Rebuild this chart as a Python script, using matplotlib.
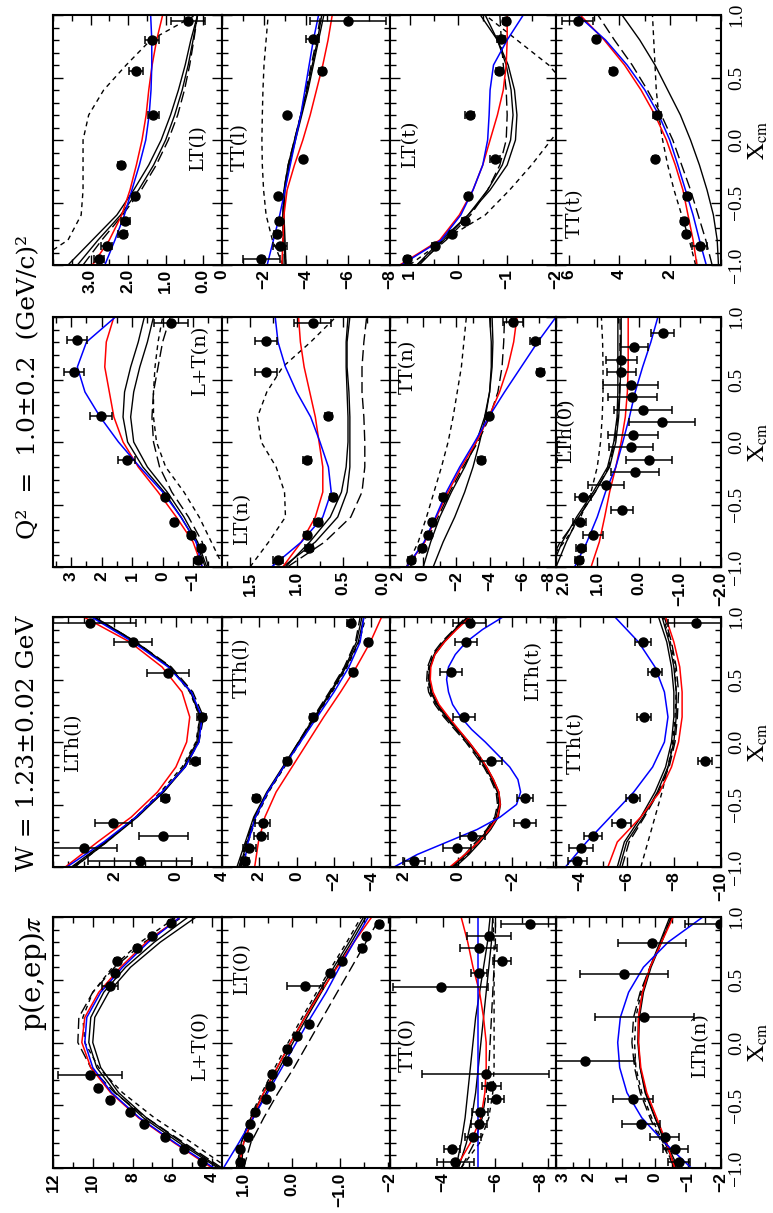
import numpy as np
import matplotlib
matplotlib.use("Agg")
import matplotlib.pyplot as plt
from matplotlib.ticker import FixedLocator, MultipleLocator, FuncFormatter

plt.rcParams['mathtext.fontset'] = 'stix'

xg = [-1.0, -0.8, -0.6, -0.4, -0.2, 0.0, 0.2, 0.4, 0.6, 0.8, 1.0]
xg_fine = [-1.0, -0.9, -0.8, -0.7, -0.6, -0.5, -0.4, -0.3, -0.2, -0.1, 0.0,
           0.1, 0.2, 0.3, 0.4, 0.5, 0.6, 0.7, 0.8, 0.9, 1.0]

# ---------------- LT(l)
ltl_x = [-0.955, -0.85, -0.75, -0.65, -0.45, -0.2, 0.2, 0.55, 0.8, 0.955]
ltl_v = [2.78, 2.57, 2.14, 2.08, 1.82, 2.19, 1.33, 1.79, 1.37, 0.41]
ltl_e = [0.14, 0.15, 0.12, 0.12, 0.05, 0.08, 0.15, 0.18, 0.19, 0.45]
ltl_red = [2.95, 2.5, 2.17, 1.95, 1.78, 1.63, 1.52, 1.45, 1.36, 1.24, 1.08]
ltl_blue = [2.62, 2.35, 2.1, 1.9, 1.7, 1.53, 1.44, 1.39, 1.37, 1.37, 1.40]
ltl_s1 = [3.6, 2.95, 2.3, 1.85, 1.45, 1.12, 0.87, 0.66, 0.48, 0.33, 0.15]
ltl_s2 = [3.35, 2.8, 2.2, 1.72, 1.32, 1.0, 0.76, 0.56, 0.4, 0.27, 0.15]
ltl_ld = [3.2, 2.7, 2.15, 1.65, 1.25, 0.93, 0.68, 0.5, 0.36, 0.25, 0.15]
ltl_sd = [4.6, 3.6, 3.25, 3.2, 3.2, 3.2, 3.05, 2.65, 2.05, 1.4, 0.2]

# ---------------- TT(l)
ttl_x = [-0.955, -0.85, -0.75, -0.65, -0.45, -0.15, 0.2, 0.555, 0.805, 0.955]
ttl_v = [-1.88, -2.76, -2.63, -2.71, -2.68, -3.87, -3.08, -4.75, -4.32, -6.0]
ttl_e = [0.9, 0.35, 0.15, 0.1, 0.05, 0.05, 0.05, 0.15, 0.3, 1.8]
ttl_red = [-2.85, -2.9, -2.95, -3.1, -3.45, -3.85, -4.2, -4.5, -4.8, -5.05, -5.25]
ttl_blue = [-2.15, -2.45, -2.75, -3.0, -3.25, -3.5, -3.75, -3.95, -4.15, -4.35, -4.6]
ttl_s1 = [-3.05, -3.0, -2.95, -3.0, -3.2, -3.5, -3.8, -4.1, -4.35, -4.6, -4.85]
ttl_s2 = [-3.0, -2.95, -2.9, -2.95, -3.15, -3.45, -3.75, -4.05, -4.3, -4.55, -4.75]
ttl_ld = [-2.9, -2.9, -2.9, -2.95, -3.15, -3.45, -3.75, -4.0, -4.25, -4.5, -4.7]
ttl_sd = [-2.9, -2.4, -2.1, -1.98, -1.92, -1.9, -1.92, -1.95, -2.0, -2.1, -2.2]

# ---------------- LT(t)
ltt_x = [-0.955, -0.85, -0.75, -0.65, -0.45, -0.15, 0.2, 0.555, 0.805, 0.955]
ltt_v = [1.05, 0.48, 0.12, -0.13, -0.2, -0.75, -0.23, -0.83, -0.88, -0.98]
ltt_e = [0.05, 0.05, 0.05, 0.06, 0.05, 0.1, 0.1, 0.06, 0.08, 0.06]
ltt_red = [1.2, 0.38, -0.02, -0.3, -0.5, -0.65, -0.8, -0.92, -0.98, -1.0, -1.0]
ltt_blue = [1.17, 0.35, -0.05, -0.3, -0.5, -0.6, -0.63, -0.65, -0.72, -1.0, -1.33]
ltt_s1 = [0.85, 0.35, -0.2, -0.65, -1.0, -1.17, -1.2, -1.15, -1.02, -0.8, -0.45]
ltt_s2 = [0.8, 0.3, -0.2, -0.6, -0.9, -1.07, -1.12, -1.08, -0.98, -0.8, -0.55]
ltt_ld = [0.85, 0.25, -0.25, -0.6, -0.85, -0.98, -1.0, -0.98, -0.92, -0.88, -0.85]
ltt_sd = [1.0, 0.3, -0.55, -1.05, -1.5, -1.9, -2.3, -2.3, -1.85, -1.2, -0.55]

# ---------------- TT(t)
ttt_x = [-0.85, -0.75, -0.65, -0.45, -0.15, 0.2, 0.555, 0.805, 0.955]
ttt_v = [0.84, 1.37, 1.46, 1.34, 2.59, 2.51, 4.26, 4.91, 5.65]
ttt_e = [0.3, 0.1, 0.1, 0.1, 0.1, 0.15, 0.1, 0.1, 0.6]
ttt_red = [0.95, 1.1, 1.3, 1.5, 1.8, 2.15, 2.6, 3.15, 3.8, 4.6, 5.55]
ttt_blue = [0.58, 0.85, 1.1, 1.4, 1.7, 2.02, 2.45, 3.0, 3.7, 4.55, 5.65]
ttt_s1 = [0.1, 0.15, 0.3, 0.55, 0.85, 1.2, 1.6, 2.1, 2.6, 3.2, 3.9]
ttt_s2 = None
ttt_ld = [0.35, 0.6, 0.9, 1.2, 1.55, 1.9, 2.35, 2.9, 3.5, 4.2, 4.85]
ttt_sd = [1.0, 1.25, 1.55, 1.85, 2.1, 2.3, 2.45, 2.55, 2.6, 2.65, 2.7]

# ---------------- L+T(n)
lptn_x = [-0.94, -0.85, -0.74, -0.64, -0.44, -0.14, 0.21, 0.56, 0.816, 0.955]
lptn_v = [-1.16, -1.27, -0.92, -0.39, -0.09, 1.18, 2.02, 2.9, 2.81, -0.28]
lptn_e = [0.1, 0.1, 0.1, 0.08, 0.08, 0.28, 0.37, 0.33, 0.33, 0.55]
lptn_red = [-1.3, -1.0, -0.45, 0.15, 0.8, 1.3, 1.6, 1.75, 1.9, 1.85, 1.6]
lptn_blue = [-1.3, -1.1, -0.6, 0.0, 0.75, 1.45, 2.05, 2.55, 2.8, 2.5, 1.55]
lptn_s1 = [-1.4, -1.1, -0.6, -0.05, 0.65, 1.15, 1.3, 1.25, 1.05, 0.8, 0.6]
lptn_s2 = [-1.45, -1.15, -0.7, -0.15, 0.5, 0.95, 1.05, 0.95, 0.75, 0.5, 0.3]
lptn_ld = [-1.5, -1.3, -0.85, -0.3, 0.1, 0.3, 0.35, 0.3, 0.15, 0.0, -0.25]
lptn_sd = [-2.0, -1.6, -1.2, -0.7, -0.1, 0.2, 0.3, 0.3, 0.25, 0.15, 0.0]

# ---------------- LT(n)
ltn_x = [-0.94, -0.85, -0.74, -0.64, -0.44, -0.14, 0.21, 0.56, 0.81, 0.955]
ltn_v = [1.2, 0.87, 0.89, 0.77, 0.61, 0.89, 0.66, 1.33, 1.33, 0.83]
ltn_e = [0.05, 0.04, 0.03, 0.04, 0.03, 0.04, 0.04, 0.12, 0.12, 0.2]
ltn_red = [1.15, 0.95, 0.8, 0.72, 0.72, 0.76, 0.8, 0.86, 0.92, 0.96, 0.98]
ltn_blue = [1.27, 0.95, 0.72, 0.63, 0.66, 0.75, 0.85, 1.0, 1.12, 1.2, 1.23]
ltn_s1 = [1.15, 0.8, 0.56, 0.46, 0.43, 0.43, 0.43, 0.44, 0.46, 0.46, 0.43]
ltn_s2 = [1.12, 0.86, 0.64, 0.52, 0.47, 0.45, 0.45, 0.46, 0.47, 0.47, 0.45]
ltn_ld = [1.1, 0.7, 0.42, 0.3, 0.27, 0.27, 0.28, 0.3, 0.3, 0.28, 0.25]
ltn_sd = [1.5, 1.3, 1.12, 1.13, 1.22, 1.38, 1.42, 1.32, 1.15, 0.85, 0.58]

# ---------------- TT(n)
ttn_x = [-0.94, -0.85, -0.74, -0.64, -0.44, -0.14, 0.21, 0.56, 0.81, 0.96]
ttn_v = [0.72, 0.05, -0.29, -0.55, -1.19, -3.5, -3.96, -7.06, -6.72, -5.41]
ttn_e = [0.2, 0.15, 0.15, 0.15, 0.15, 0.2, 0.2, 0.2, 0.3, 0.6]
ttn_red = [1.0, -0.1, -0.8, -1.5, -2.3, -3.2, -3.95, -4.6, -5.1, -5.45, -5.65]
ttn_blue = [1.0, -0.05, -0.75, -1.4, -2.2, -3.1, -3.95, -4.9, -5.9, -6.9, -8.0]
ttn_s1 = [0.0, -0.45, -1.0, -1.7, -2.5, -3.2, -3.7, -4.0, -4.1, -4.1, -4.0]
ttn_s2 = [-0.6, -1.2, -1.9, -2.5, -3.0, -3.4, -3.75, -4.0, -4.15, -4.2, -4.15]
ttn_ld = [0.8, -0.2, -0.9, -1.6, -2.4, -3.3, -4.0, -4.5, -4.75, -4.85, -4.9]
ttn_sd = [1.0, 0.3, -0.2, -0.65, -1.1, -1.5, -1.8, -2.05, -2.3, -2.45, -2.6]

# ---------------- LTh(0)
lth0_x = [-0.94, -0.85, -0.74, -0.64, -0.54, -0.44, -0.34, -0.24, -0.14, -0.04,
          0.06, 0.16, 0.26, 0.36, 0.46, 0.56, 0.66, 0.76, 0.87]
lth0_v = [1.45, 1.39, 1.1, 1.43, 0.4, 1.35, 0.78, 0.08, -0.25, 0.19,
          0.13, -0.57, -0.1, 0.15, 0.19, 0.42, 0.42, 0.11, -0.59]
lth0_e = [0.1, 0.12, 0.24, 0.15, 0.26, 0.2, 0.44, 0.58, 0.55, 0.53,
          0.6, 0.8, 0.7, 0.6, 0.67, 0.35, 0.38, 0.34, 0.28]
lth0_red = [1.15, 0.95, 0.82, 0.7, 0.55, 0.42, 0.32, 0.27, 0.25, 0.25, 0.25]
lth0_blue = [1.55, 1.25, 1.0, 0.8, 0.55, 0.38, 0.22, 0.08, -0.1, -0.3, -0.47]
lth0_s1 = [2.0, 1.75, 1.45, 1.05, 0.7, 0.55, 0.48, 0.45, 0.43, 0.42, 0.42]
lth0_s2 = [2.1, 1.85, 1.5, 1.1, 0.75, 0.6, 0.52, 0.5, 0.5, 0.5, 0.5]
lth0_ld = [2.2, 1.9, 1.45, 1.05, 0.72, 0.58, 0.5, 0.46, 0.44, 0.44, 0.45]
lth0_sd = [2.3, 1.8, 1.4, 1.15, 1.0, 0.92, 0.88, 0.86, 0.86, 0.87, 0.9]

# ---------------- LTh(l)
lthl_x = [-0.955, -0.85, -0.75, -0.65, -0.45, -0.15, 0.2, 0.55, 0.8, 0.955]
lthl_v = [1.17, 2.98, 0.41, 2.04, 0.36, -0.62, -0.84, 0.25, 1.39, 2.8]
lthl_e = [1.7, 1.05, 0.8, 0.6, 0.12, 0.15, 0.15, 0.68, 0.62, 1.5]
lthl_red = [3.6, 2.55, 1.45, 0.6, 0.0, -0.35, -0.45, -0.2, 0.45, 1.5, 3.0]
lthl_blue = [3.55, 2.35, 1.3, 0.45, -0.3, -0.75, -0.85, -0.5, 0.25, 1.4, 2.75]
lthl_s1 = [3.4, 2.3, 1.3, 0.4, -0.3, -0.72, -0.82, -0.5, 0.2, 1.35, 2.7]
lthl_s2 = [3.3, 2.25, 1.25, 0.4, -0.25, -0.68, -0.78, -0.48, 0.2, 1.3, 2.65]
lthl_ld = [3.35, 2.3, 1.3, 0.45, -0.3, -0.75, -0.9, -0.55, 0.15, 1.3, 2.65]
lthl_sd = [3.3, 2.25, 1.3, 0.5, -0.2, -0.65, -0.78, -0.45, 0.2, 1.3, 2.7]

# ---------------- TTh(l)
tthl_x = [-0.95, -0.85, -0.75, -0.65, -0.45, -0.15, 0.2, 0.56, 0.8, 0.95]
tthl_v = [2.77, 2.54, 1.91, 1.82, 2.18, 0.53, -0.86, -3.0, -3.84, -2.89]
tthl_e = [0.2, 0.35, 0.4, 0.4, 0.15, 0.15, 0.15, 0.15, 0.15, 0.2]
tthl_red = [2.25, 2.05, 1.7, 1.1, 0.25, -0.6, -1.45, -2.35, -3.2, -3.95, -4.55]
tthl_blue = [2.85, 2.6, 2.2, 1.55, 0.7, -0.2, -1.1, -2.0, -2.8, -3.4, -3.6]
tthl_s1 = [3.2, 2.75, 2.3, 1.6, 0.75, -0.1, -0.95, -1.8, -2.6, -3.2, -3.5]
tthl_s2 = [3.05, 2.65, 2.2, 1.55, 0.7, -0.15, -1.0, -1.85, -2.65, -3.3, -3.6]
tthl_ld = [3.1, 2.7, 2.25, 1.55, 0.7, -0.1, -0.9, -1.75, -2.55, -3.15, -3.4]
tthl_sd = [3.0, 2.6, 2.15, 1.5, 0.65, -0.2, -1.05, -1.9, -2.7, -3.35, -3.7]

# ---------------- LTh(t)  (curves read on the fine grid)
ltht_x = [-0.95, -0.85, -0.75, -0.65, -0.45, -0.15, 0.2, 0.56, 0.8, 0.95]
ltht_v = [1.63, 0.04, -0.53, -2.45, -2.45, -1.22, -0.22, 0.25, -0.28, -0.43]
ltht_e = [0.4, 0.5, 0.45, 0.4, 0.3, 0.4, 0.4, 0.4, 0.4, 0.6]
ltht_red = [0.3, -0.25, -0.75, -1.15, -1.45, -1.55, -1.5, -1.3, -1.05, -0.75, -0.4,
            -0.02, 0.35, 0.7, 0.92, 1.02, 1.0, 0.85, 0.5, 0.05, -0.45]
ltht_blue = [2.35, 1.5, 0.4, -0.7, -1.55, -2.15, -2.3, -2.2, -1.9, -1.45, -1.0,
             -0.5, -0.1, 0.2, 0.35, 0.42, 0.35, 0.1, -0.3, -0.9, -1.65]
ltht_s1 = [0.2, -0.3, -0.72, -1.1, -1.4, -1.5, -1.45, -1.25, -1.0, -0.7, -0.35,
           0.05, 0.45, 0.78, 1.0, 1.08, 1.05, 0.88, 0.55, 0.12, -0.35]
ltht_s2 = [0.1, -0.4, -0.82, -1.2, -1.48, -1.56, -1.5, -1.3, -1.05, -0.75, -0.4,
           0.0, 0.4, 0.74, 0.97, 1.05, 1.02, 0.85, 0.5, 0.08, -0.4]
ltht_ld = [0.25, -0.25, -0.65, -1.05, -1.35, -1.45, -1.4, -1.2, -0.95, -0.62, -0.28,
           0.12, 0.52, 0.85, 1.08, 1.15, 1.12, 0.95, 0.6, 0.15, -0.3]
ltht_sd = [0.15, -0.35, -0.75, -1.12, -1.42, -1.5, -1.45, -1.25, -1.0, -0.68, -0.33,
           0.07, 0.47, 0.8, 1.03, 1.1, 1.08, 0.9, 0.55, 0.1, -0.35]

# ---------------- TTh(t)
ttht_x = [-0.95, -0.85, -0.75, -0.65, -0.45, -0.15, 0.2, 0.56, 0.8, 0.95]
ttht_v = [-3.9, -4.07, -4.57, -5.77, -6.27, -9.31, -6.73, -7.21, -6.69, -8.95]
ttht_e = [0.4, 0.5, 0.4, 0.4, 0.3, 0.3, 0.3, 0.3, 0.35, 1.2]
ttht_red = [-5.2, -5.6, -6.6, -7.4, -7.9, -8.2, -8.35, -8.35, -8.25, -8.0, -7.65]
ttht_blue = [-3.4, -4.3, -5.3, -6.3, -7.1, -7.6, -7.75, -7.6, -7.2, -6.5, -5.5]
ttht_s1 = [-5.6, -5.9, -6.6, -7.2, -7.65, -7.9, -8.0, -8.0, -7.9, -7.7, -7.35]
ttht_s2 = [-5.7, -6.0, -6.7, -7.3, -7.75, -8.0, -8.1, -8.1, -8.0, -7.8, -7.5]
ttht_ld = [-5.8, -6.1, -6.75, -7.35, -7.8, -8.05, -8.15, -8.2, -8.1, -7.9, -7.6]
ttht_sd = [-6.6, -6.9, -7.2, -7.5, -7.75, -7.95, -8.05, -8.1, -8.05, -7.85, -7.55]

# ---------------- L+T(0)
lpt0_x = [-0.95, -0.85, -0.75, -0.65, -0.55, -0.46, -0.36, -0.26,
          0.45, 0.55, 0.65, 0.75, 0.85, 0.95]
lpt0_v = [4.5, 5.4, 6.37, 7.43, 8.13, 9.14, 9.72, 10.14,
          9.14, 8.88, 8.8, 7.79, 7.04, 6.09]
lpt0_e = [0.1, 0.1, 0.1, 0.1, 0.1, 0.1, 0.1, 1.6,
          0.4, 0.1, 0.1, 0.1, 0.1, 0.1]
lpt0_red = [4.0, 5.9, 7.7, 9.1, 10.1, 10.55, 10.4, 9.7, 8.6, 7.3, 5.6]
lpt0_blue = [3.9, 5.85, 7.65, 9.05, 10.0, 10.4, 10.3, 9.6, 8.5, 7.2, 5.6]
lpt0_s1 = [3.6, 5.5, 7.3, 8.7, 9.6, 10.0, 9.9, 9.2, 8.1, 6.6, 4.8]
lpt0_s2 = [3.7, 5.65, 7.45, 8.85, 9.8, 10.2, 10.1, 9.45, 8.35, 6.9, 5.2]
lpt0_ld = [3.5, 5.4, 7.3, 8.9, 10.1, 10.75, 10.7, 10.0, 8.9, 7.4, 5.5]
lpt0_sd = [3.2, 5.0, 6.9, 8.5, 9.7, 10.4, 10.5, 10.0, 9.0, 7.6, 5.8]

# ---------------- LT(0)
lt0_x = [-0.95, -0.85, -0.75, -0.65, -0.55, -0.45, -0.35, -0.25, -0.15,
         -0.05, 0.05, 0.15, 0.45, 0.55, 0.65, 0.75, 0.846, 0.944]
lt0_v = [1.08, 1.08, 0.9, 0.87, 0.76, 0.53, 0.45, 0.41, 0.1,
         0.09, -0.11, -0.37, -0.28, -0.8, -1.04, -1.46, -1.56, -1.83]
lt0_e = [0.04, 0.04, 0.04, 0.04, 0.04, 0.04, 0.04, 0.04, 0.04,
         0.04, 0.04, 0.04, 0.38, 0.05, 0.05, 0.05, 0.05, 0.05]
lt0_red = [1.1, 1.0, 0.82, 0.58, 0.3, 0.02, -0.28, -0.6, -0.95, -1.3, -1.67]
lt0_blue = [1.42, 1.1, 0.8, 0.5, 0.2, -0.1, -0.4, -0.72, -1.0, -1.3, -1.6]
lt0_s1 = [1.1, 1.05, 0.85, 0.58, 0.3, 0.02, -0.27, -0.57, -0.88, -1.2, -1.5]
lt0_s2 = [1.05, 1.0, 0.8, 0.53, 0.25, -0.03, -0.32, -0.62, -0.93, -1.25, -1.55]
lt0_ld = [1.0, 0.85, 0.58, 0.28, -0.05, -0.35, -0.65, -0.95, -1.25, -1.55, -1.85]
lt0_sd = [1.15, 1.05, 0.87, 0.62, 0.35, 0.07, -0.22, -0.52, -0.83, -1.15, -1.45]

# ---------------- TT(0)
tt0_x = [-0.95, -0.85, -0.75, -0.65, -0.55, -0.45, -0.35, -0.25,
         0.445, 0.55, 0.65, 0.75, 0.846, 0.944]
tt0_v = [-4.48, -4.35, -5.15, -5.37, -5.43, -6.03, -5.85, -5.63,
         -3.92, -5.37, -6.25, -5.37, -5.76, -7.3]
tt0_e = [0.7, 0.3, 0.3, 0.3, 0.3, 0.3, 0.36, 2.4,
         1.8, 0.3, 0.35, 0.7, 0.85, 1.1]
tt0_red = [-4.5, -5.05, -5.45, -5.6, -5.65, -5.65, -5.55, -5.4, -5.15, -4.95, -4.7]
tt0_blue = [-5.34, -5.34, -5.34, -5.34, -5.34, -5.34, -5.34, -5.34, -5.34, -5.34, -5.34]
tt0_s1 = [-4.5, -4.7, -4.85, -4.95, -5.05, -5.15, -5.25, -5.4, -5.55, -5.7, -5.8]
tt0_s2 = [-4.6, -4.9, -5.1, -5.25, -5.35, -5.45, -5.55, -5.65, -5.75, -5.85, -5.9]
tt0_ld = [-4.7, -5.2, -5.5, -5.65, -5.75, -5.8, -5.85, -5.9, -5.95, -6.0, -6.0]
tt0_sd = [-4.7, -5.4, -5.75, -5.9, -5.95, -5.95, -5.95, -5.95, -5.95, -5.95, -5.9]

# ---------------- LTh(n)
lthn_x = [-0.95, -0.85, -0.75, -0.65, -0.45, -0.15, 0.2, 0.546, 0.79, 0.944]
lthn_v = [-0.73, -0.62, -0.29, 0.42, 0.67, 2.11, 0.33, 0.94, 0.09, -1.96]
lthn_e = [0.33, 0.38, 0.45, 0.58, 0.6, 1.5, 1.5, 1.33, 1.03, 1.05]
lthn_red = [-0.6, -0.35, -0.05, 0.25, 0.43, 0.5, 0.5, 0.38, 0.15, -0.2, -0.55]
lthn_blue = [-1.1, -0.3, 0.4, 0.85, 1.07, 1.13, 1.05, 0.8, 0.35, -0.4, -1.45]
lthn_s1 = [-0.65, -0.3, 0.0, 0.3, 0.45, 0.52, 0.5, 0.38, 0.15, -0.15, -0.45]
lthn_s2 = [-0.7, -0.35, 0.0, 0.28, 0.45, 0.5, 0.47, 0.35, 0.12, -0.2, -0.5]
lthn_ld = [-0.6, -0.2, 0.15, 0.45, 0.62, 0.7, 0.65, 0.45, 0.15, -0.2, -0.5]
lthn_sd = [-0.6, -0.25, 0.1, 0.4, 0.58, 0.62, 0.58, 0.42, 0.15, -0.18, -0.5]

# panel names, value-axis limits (left, right) and labelled ticks
names = ["LT(l)", "TT(l)", "LT(t)", "TT(t)",
         "L+T(n)", "LT(n)", "TT(n)", "LTh(0)",
         "LTh(l)", "TTh(l)", "LTh(t)", "TTh(t)",
         "L+T(0)", "LT(0)", "TT(0)", "LTh(n)"]
limits = [(4.0, -0.5), (0, -8), (1.4, -2.0), (6.5, 0),
          (3.6, -1.95), (1.8, 0.0), (2, -8), (2, -2),
          (4, -1.5), (4, -5), (2.5, -3.6), (-3, -10),
          (12, 3.5), (1.45, -2.05), (-2, -8.3), (3, -2)]
ticks = [[3.0, 2.0, 1.0, 0.0], [0, -2, -4, -6, -8], [1, 0, -1, -2], [6, 4, 2],
         [3, 2, 1, 0, -1], [1.5, 1.0, 0.5, 0.0], [2, 0, -2, -4, -6, -8], [2.0, 1.0, 0.0, -1.0, -2.0],
         [2, 0], [4, 2, 0, -2, -4], [2, 0, -2], [-4, -6, -8, -10],
         [12, 10, 8, 6, 4], [1.0, 0.0, -1.0], [-2, -4, -6, -8], [3, 2, 1, 0, -1, -2]]
minor_step = [0.5, 1, 0.5, 1, 0.5, 0.25, 1, 0.5, 0.5, 1, 0.5, 1, 1, 0.5, 1, 0.5]
tick_fmt = ['%.1f', '%d', '%d', '%d', '%d', '%.1f', '%d', '%.1f',
            '%d', '%d', '%d', '%d', '%d', '%.1f', '%d', '%d']

points = [(ltl_x, ltl_v, ltl_e), (ttl_x, ttl_v, ttl_e), (ltt_x, ltt_v, ltt_e), (ttt_x, ttt_v, ttt_e),
          (lptn_x, lptn_v, lptn_e), (ltn_x, ltn_v, ltn_e), (ttn_x, ttn_v, ttn_e), (lth0_x, lth0_v, lth0_e),
          (lthl_x, lthl_v, lthl_e), (tthl_x, tthl_v, tthl_e), (ltht_x, ltht_v, ltht_e), (ttht_x, ttht_v, ttht_e),
          (lpt0_x, lpt0_v, lpt0_e), (lt0_x, lt0_v, lt0_e), (tt0_x, tt0_v, tt0_e), (lthn_x, lthn_v, lthn_e)]
curves = [(ltl_s1, ltl_s2, ltl_ld, ltl_sd, ltl_red, ltl_blue),
          (ttl_s1, ttl_s2, ttl_ld, ttl_sd, ttl_red, ttl_blue),
          (ltt_s1, ltt_s2, ltt_ld, ltt_sd, ltt_red, ltt_blue),
          (ttt_s1, ttt_s2, ttt_ld, ttt_sd, ttt_red, ttt_blue),
          (lptn_s1, lptn_s2, lptn_ld, lptn_sd, lptn_red, lptn_blue),
          (ltn_s1, ltn_s2, ltn_ld, ltn_sd, ltn_red, ltn_blue),
          (ttn_s1, ttn_s2, ttn_ld, ttn_sd, ttn_red, ttn_blue),
          (lth0_s1, lth0_s2, lth0_ld, lth0_sd, lth0_red, lth0_blue),
          (lthl_s1, lthl_s2, lthl_ld, lthl_sd, lthl_red, lthl_blue),
          (tthl_s1, tthl_s2, tthl_ld, tthl_sd, tthl_red, tthl_blue),
          (ltht_s1, ltht_s2, ltht_ld, ltht_sd, ltht_red, ltht_blue),
          (ttht_s1, ttht_s2, ttht_ld, ttht_sd, ttht_red, ttht_blue),
          (lpt0_s1, lpt0_s2, lpt0_ld, lpt0_sd, lpt0_red, lpt0_blue),
          (lt0_s1, lt0_s2, lt0_ld, lt0_sd, lt0_red, lt0_blue),
          (tt0_s1, tt0_s2, tt0_ld, tt0_sd, tt0_red, tt0_blue),
          (lthn_s1, lthn_s2, lthn_ld, lthn_sd, lthn_red, lthn_blue)]

# line styles: solid, solid, long dash, short dash, red, blue
curve_style = [dict(color='k', lw=1.0),
               dict(color='k', lw=1.0),
               dict(color='k', lw=1.0, dashes=(8, 3.5)),
               dict(color='k', lw=1.0, dashes=(3.5, 3)),
               dict(color='#ff0000', lw=1.1),
               dict(color='#0000ff', lw=1.1)]

# figure layout in pixels (the chart is printed rotated by 90 degrees)
W, H = 773, 1213
col_px = [53, 222, 390, 556, 721]
row_top = [15, 317, 617, 917]
row_bot = [265, 567, 867, 1168]
label_px = [(198, 147), (240, 147), (410, 143), (575, 213),
            (200, 360), (242, 518), (408, 367), (566, 430),
            (73, 742), (242, 668), (533, 670), (576, 743),
            (200, 1045), (242, 968), (408, 1045), (700, 1045)]
# tick labels at shared panel edges are nudged apart
edge_ha = {(5, -1): 'right', (6, 0): 'left', (6, -1): 'right', (7, 0): 'left',
           (14, -1): 'right', (15, 0): 'left'}


def fmt_func(f):
    return FuncFormatter(lambda v, p: (f % v).replace('-', '\u2212'))


fig = plt.figure(figsize=(W / 100, H / 100), dpi=100)

for i in range(16):
    r, c = divmod(i, 4)
    x0, x1 = col_px[c], col_px[c + 1]
    ax = fig.add_axes([x0 / W, 1 - row_bot[r] / H, (x1 - x0) / W, (row_bot[r] - row_top[r]) / H])

    for ys, st in zip(curves[i], curve_style):
        if ys is None:
            continue
        ax.plot(ys, xg_fine if len(ys) == len(xg_fine) else xg, **st)

    px, pv, pe = points[i]
    ax.errorbar(pv, px, xerr=pe, fmt='o', color='k', ms=6.5, elinewidth=1.1,
                capsize=3, capthick=1.1, zorder=5)

    ax.set_xlim(*limits[i])
    ax.set_ylim(-1, 1)

    ax.xaxis.set_major_locator(FixedLocator(ticks[i]))
    ax.xaxis.set_minor_locator(MultipleLocator(minor_step[i]))
    ax.xaxis.set_major_formatter(fmt_func(tick_fmt[i]))
    ax.yaxis.set_major_locator(MultipleLocator(0.5))
    ax.yaxis.set_minor_locator(MultipleLocator(0.1))
    ax.yaxis.set_major_formatter(fmt_func('%.1f'))

    ax.tick_params(which='both', direction='in', top=True, bottom=True, left=True, right=True,
                   width=1.0)
    ax.tick_params(which='major', length=7)
    ax.tick_params(which='minor', length=4)
    ax.tick_params(axis='x', labelbottom=True, labeltop=False, labelrotation=90, pad=3,
                   labelsize=12.5, labelfontfamily='Liberation Sans')
    xlabels = ax.get_xticklabels()
    for t in xlabels:
        t.set_fontweight('bold')
    for (k, j), ha in edge_ha.items():
        if k == i:
            xlabels[j].set_horizontalalignment(ha)
    ax.tick_params(axis='y', labelleft=False, labelright=(c == 3), labelrotation=90, pad=5,
                   labelsize=14, labelfontfamily='Liberation Serif')
    if c == 3:
        for t in ax.get_yticklabels():
            t.set_verticalalignment('center')
        ax.yaxis.set_label_position('right')
        ax.set_ylabel(r'$\mathrm{X}_{\mathrm{cm}}$', fontsize=17, rotation=90, labelpad=1)

    for s in ax.spines.values():
        s.set_linewidth(1.5)

    lx, ly = label_px[i]
    fig.text(lx / W, 1 - ly / H, names[i], rotation=90, ha='center', va='center',
             fontfamily='DejaVu Serif', fontsize=14)

# title strip down the left side
fig.text(33 / W, 1 - 973 / H, r'p(e,ep)$\pi$', rotation=90, ha='center', va='center',
         fontfamily='DejaVu Serif', fontsize=20)
fig.text(28 / W, 1 - 743 / H, 'W = 1.23\u00b10.02 GeV', rotation=90, ha='center', va='center',
         fontfamily='DejaVu Serif', fontsize=18)
fig.text(28 / W, 1 - 387 / H, 'Q\u00b2  =  1.0\u00b10.2  (GeV/c)\u00b2', rotation=90, ha='center',
         va='center', fontfamily='DejaVu Serif', fontsize=18)

fig.savefig('out.png', dpi=100, facecolor='white')
